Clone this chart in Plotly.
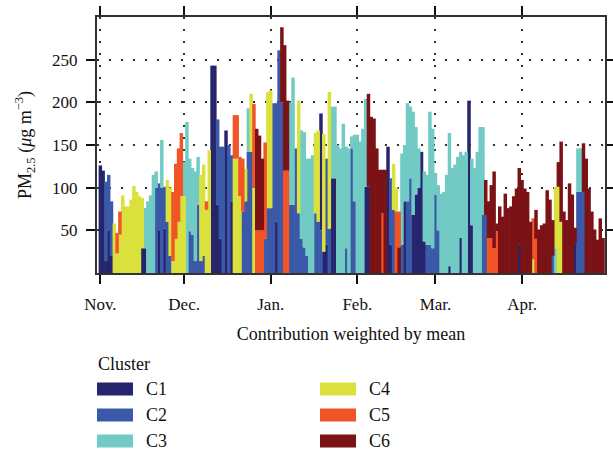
import plotly.graph_objects as go

# ---------------- data ----------------
month_ticks = [0, 30, 61, 92, 120, 151]
month_labels = ["Nov.", "Dec.", "Jan.", "Feb.", "Mar.", "Apr."]
y_ticks = [50, 100, 150, 200, 250]

cluster_names = ["C1", "C2", "C3", "C4", "C5", "C6"]
cluster_colors = ["#26246c", "#3a5aa8", "#71cbc4", "#dbe13c", "#f15426", "#7b1215"]

# daily PM2.5 total (top of each day's bar)
total = [
    126, 120, 107, 115, 84, 58, 47, 72, 91, 78,
    78, 86, 102, 95, 90, 88, 76, 84, 91, 115,
    119, 105, 156, 101, 109, 100, 95, 128, 146, 164,
    130, 177, 134, 123, 119, 136, 115, 127, 84, 144,
    243, 243, 180, 148, 148, 167, 150, 138, 185, 185,
    136, 134, 122, 193, 210, 198, 169, 161, 134, 153,
    212, 214, 199, 199, 261, 288, 267, 202, 200, 229,
    146, 202, 167, 165, 134, 134, 138, 164, 167, 187,
    163, 134, 212, 195, 195, 150, 146, 175, 148, 146,
    160, 162, 162, 154, 169, 204, 210, 183, 181, 146,
    121, 121, 121, 148, 111, 128, 100, 72, 140, 150,
    199, 195, 189, 171, 146, 142, 119, 115, 189, 169,
    117, 103, 93, 95, 115, 164, 123, 127, 136, 142,
    138, 142, 202, 134, 123, 142, 171, 171, 109, 84,
    103, 119, 58, 78, 66, 93, 76, 78, 90, 99,
    123, 109, 99, 95, 60, 64, 74, 51, 56, 58,
    97, 86, 62, 101, 130, 154, 72, 62, 105, 92,
    53, 146, 146, 152, 134, 99, 72, 51, 39, 64, 41,
]

# cluster of the upper segment of each day's bar
top_cluster = [
    1, 1, 2, 2, 2, 4, 5, 5, 4, 4,
    4, 4, 4, 4, 4, 4, 3, 3, 3, 3,
    3, 2, 3, 2, 4, 4, 5, 5, 5, 5,
    3, 3, 3, 3, 3, 3, 4, 4, 5, 4,
    1, 1, 2, 2, 2, 1, 2, 2, 5, 5,
    5, 5, 4, 3, 4, 5, 6, 6, 6, 5,
    4, 4, 2, 2, 2, 6, 6, 6, 3, 3,
    2, 4, 3, 3, 3, 3, 3, 4, 4, 1,
    4, 2, 4, 3, 3, 3, 3, 3, 3, 3,
    3, 3, 3, 3, 3, 3, 6, 6, 6, 6,
    6, 6, 6, 1, 2, 4, 4, 5, 3, 3,
    3, 3, 3, 3, 3, 1, 3, 3, 3, 3,
    3, 3, 3, 3, 3, 3, 3, 3, 3, 3,
    3, 3, 1, 3, 3, 3, 3, 3, 6, 6,
    6, 6, 6, 6, 6, 6, 6, 6, 6, 6,
    6, 6, 6, 6, 6, 5, 6, 6, 6, 6,
    6, 6, 6, 4, 6, 6, 6, 6, 6, 6,
    6, 3, 3, 6, 6, 6, 6, 6, 6, 6, 6,
]

# cluster of the lower segment (0 = none)
low_cluster = [
    0, 0, 1, 1, 1, 0, 4, 4, 0, 0,
    0, 0, 0, 0, 0, 1, 1, 0, 0, 0,
    2, 1, 2, 1, 2, 2, 4, 4, 4, 4,
    4, 0, 2, 2, 2, 2, 2, 2, 4, 0,
    0, 0, 1, 1, 0, 0, 0, 1, 4, 4,
    4, 2, 2, 2, 2, 4, 5, 5, 5, 2,
    2, 2, 0, 1, 0, 2, 5, 5, 2, 2,
    0, 2, 2, 2, 2, 0, 0, 2, 2, 2,
    1, 1, 2, 1, 1, 0, 0, 0, 2, 0,
    2, 2, 0, 0, 0, 1, 1, 0, 0, 0,
    0, 5, 0, 0, 1, 2, 5, 6, 2, 1,
    2, 2, 1, 1, 1, 0, 1, 2, 2, 2,
    2, 2, 0, 0, 0, 1, 0, 0, 0, 1,
    0, 0, 0, 1, 0, 0, 0, 2, 2, 5,
    5, 5, 5, 0, 0, 0, 0, 0, 0, 0,
    1, 0, 0, 0, 0, 4, 5, 0, 0, 0,
    0, 0, 2, 3, 4, 4, 0, 0, 0, 0,
    1, 2, 2, 2, 0, 0, 0, 0, 0, 0, 0,
]

# height of the lower segment
low_value = [
    0, 0, 14, 50, 20, 0, 23, 45, 0, 0,
    0, 0, 0, 0, 0, 29, 29, 0, 0, 0,
    100, 50, 100, 52, 60, 20, 14, 40, 60, 90,
    90, 0, 49, 45, 14, 80, 14, 20, 74, 0,
    0, 0, 80, 40, 0, 0, 0, 84, 134, 134,
    90, 72, 84, 142, 142, 100, 50, 50, 50, 40,
    76, 76, 0, 60, 0, 200, 120, 120, 80, 80,
    0, 70, 40, 30, 20, 0, 0, 70, 60, 50,
    25, 33, 52, 111, 111, 0, 0, 0, 29, 0,
    146, 84, 0, 0, 0, 101, 101, 0, 0, 0,
    0, 70, 0, 0, 33, 74, 72, 30, 33, 84,
    84, 111, 68, 92, 100, 0, 37, 33, 33, 29,
    92, 50, 0, 0, 0, 8, 0, 0, 0, 41,
    0, 0, 0, 56, 0, 0, 0, 68, 68, 41,
    41, 29, 49, 0, 0, 0, 0, 0, 0, 0,
    33, 0, 0, 0, 0, 16, 40, 0, 0, 0,
    0, 0, 20, 29, 101, 60, 0, 0, 0, 0,
    35, 95, 95, 95, 0, 0, 0, 0, 0, 0, 0,
]

# ---------------- figure ----------------
FONT = "Liberation Serif"
fig = go.Figure()

for k, (name, color) in enumerate(zip(cluster_names, cluster_colors), start=1):
    xs, ys, bs = [], [], []
    for d in range(len(total)):
        lv = low_value[d] if low_cluster[d] else 0
        if low_cluster[d] == k and lv > 0:
            xs.append(d); bs.append(0); ys.append(lv)
        if top_cluster[d] == k:
            xs.append(d); bs.append(lv); ys.append(total[d] - lv)
    fig.add_trace(go.Bar(
        x=xs, y=ys, base=bs, width=1.25, name=name,
        marker=dict(color=color, line=dict(width=0)),
        showlegend=False, hoverinfo="skip",
    ))

W, H = 613, 455
L, R, T, B = 97, 8, 17, 182
PW, PH = W - L - R, H - T - B


def px(x):
    return (x - L) / PW


def py(y):
    return (H - B - y) / PH


axis_common = dict(
    showline=True, linecolor="#333333", linewidth=2, mirror="allticks",
    ticks="outside", ticklen=9, tickwidth=2, tickcolor="#111111",
    showgrid=True, gridcolor="#333333", gridwidth=2, griddash="2px,10px",
    zeroline=False, tickfont=dict(family=FONT, size=17, color="#111111"),
)

fig.update_layout(
    width=W, height=H,
    margin=dict(l=L, r=R, t=T, b=B, autoexpand=False),
    paper_bgcolor="white", plot_bgcolor="white",
    barmode="overlay",
    font=dict(family=FONT, size=17, color="#111111"),
    xaxis=dict(
        range=[-1.2, 180.7], tickvals=month_ticks, ticktext=month_labels,
        ticklabelstandoff=6,
        title=dict(text="Contribution weighted by mean", standoff=14,
                   font=dict(family=FONT, size=18, color="#111111")),
        **axis_common,
    ),
    yaxis=dict(
        range=[0, 300], tickvals=y_ticks, ticklabelstandoff=5,
        title=dict(text="PM<sub>2.5</sub> (<i>μ</i>g m<sup>−3</sup>)", standoff=16,
                   font=dict(family=FONT, size=18, color="#111111")),
        **axis_common,
    ),
)

# legend drawn below the plot
shapes = []
annotations = [dict(text="Cluster", x=px(96), y=py(364), xref="paper", yref="paper",
                    xanchor="left", yanchor="middle", showarrow=False,
                    font=dict(family=FONT, size=18, color="#111111"))]
col_x = [97, 320]
row_y = [389, 415, 441]
for i, (name, color) in enumerate(zip(cluster_names, cluster_colors)):
    cx = col_x[i // 3]
    cy = row_y[i % 3]
    shapes.append(dict(type="rect", xref="paper", yref="paper",
                       x0=px(cx), x1=px(cx + 36), y0=py(cy - 6.5), y1=py(cy + 6.5),
                       fillcolor=color, line=dict(width=0)))
    annotations.append(dict(text=name, x=px(cx + 47), y=py(cy), xref="paper", yref="paper",
                            xanchor="left", yanchor="middle", showarrow=False,
                            font=dict(family=FONT, size=18, color="#111111")))
fig.update_layout(shapes=shapes, annotations=annotations)

fig.write_html("out.html", config={"displayModeBar": False})

# remove the browser's default page margin so the figure sits at the window origin
with open("out.html", "r", encoding="utf-8") as f:
    html = f.read()
html = html.replace("<head>", "<head><style>html,body{margin:0;padding:0;overflow:hidden;}</style>", 1)
with open("out.html", "w", encoding="utf-8") as f:
    f.write(html)
